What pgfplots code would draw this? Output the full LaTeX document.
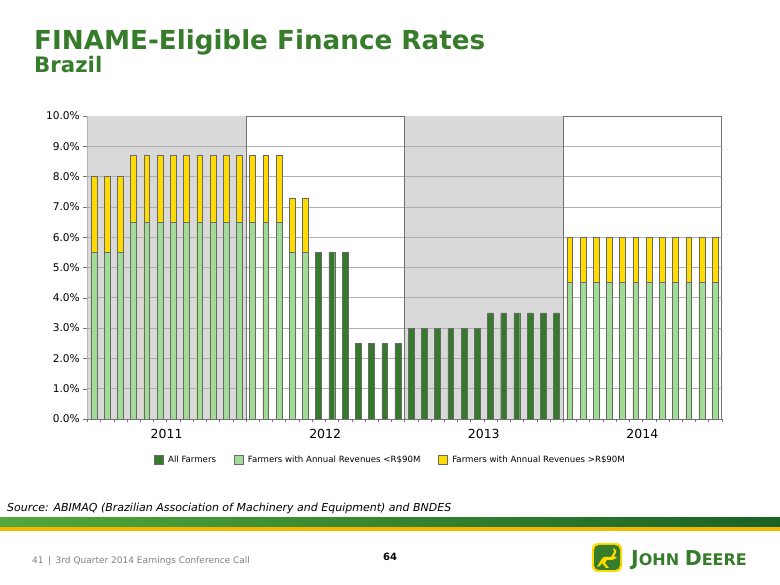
\documentclass[border=0pt]{standalone}
\usepackage{pgfplots}
\pgfplotsset{compat=1.18}
\usepackage{fontspec}
\setmainfont{DejaVu Sans}
\definecolor{dg}{RGB}{52,122,42}
\definecolor{lg}{RGB}{160,220,150}
\definecolor{yel}{RGB}{255,219,0}
\definecolor{edge}{RGB}{105,105,105}
\definecolor{bggray}{RGB}{217,217,217}
\definecolor{titlegreen}{RGB}{54,124,43}
\definecolor{bandL}{RGB}{84,168,60}
\definecolor{bandR}{RGB}{26,98,38}
\definecolor{bandY}{RGB}{244,184,0}
\definecolor{jdgreen}{RGB}{54,124,43}
\definecolor{gridc}{RGB}{175,175,175}
\begin{document}
\begin{tikzpicture}[x=1pt,y=1pt]
\path[fill=white] (0,0) rectangle (780,585);
% titles
\node[anchor=base west, inner sep=0, text=titlegreen, font=\fontsize{26.2}{30}\selectfont\bfseries] at (34,535) {FINAME-Eligible Finance Rates};
\node[anchor=base west, inner sep=0, text=titlegreen, font=\fontsize{21.3}{24}\selectfont\bfseries] at (34,512) {Brazil};
\begin{axis}[
  at={(87.3pt,166pt)}, anchor=south west,
  scale only axis, width=634.4pt, height=303pt,
  xmin=0, xmax=48, ymin=0, ymax=10,
  xtick={6,18,30,42}, xticklabels={2011,2012,2013,2014},
  minor xtick={0,1,...,48},
  major x tick style={draw=none},
  minor tick length=3.5pt, major tick length=4pt,
  tick align=outside, xtick pos=bottom, ytick pos=left,
  ytick={0,1,...,10},
  yticklabels={0.0\%,1.0\%,2.0\%,3.0\%,4.0\%,5.0\%,6.0\%,7.0\%,8.0\%,9.0\%,10.0\%},
  axis line style={draw=gray!90!black},
  tick style={draw=gray!90!black},
  x tick label style={font=\fontsize{12.5}{14}\selectfont, yshift=-3pt},
  y tick label style={font=\fontsize{10.6}{12}\selectfont},
  legend style={at={(0.478,-0.135)}, anchor=center, draw=none, fill=none,
    legend columns=3, font=\fontsize{8.6}{10}\selectfont,
    /tikz/every odd column/.append style={column sep=2.5pt},
    /tikz/every even column/.append style={column sep=16pt}},
  legend cell align=left,
  legend image code/.code={\draw[#1] (0pt,-4.5pt) rectangle (9pt,4.5pt);},
]
\fill[bggray] (axis cs:0,0) rectangle (axis cs:12,10);
\fill[bggray] (axis cs:24,0) rectangle (axis cs:36,10);
\pgfplotsinvokeforeach{1,...,9}{
  \draw[gridc, line width=0.7pt] (axis cs:0,#1) -- (axis cs:48,#1);
}
\draw[gray!90!black] (axis cs:12,0) -- (axis cs:12,10);
\draw[gray!90!black] (axis cs:24,0) -- (axis cs:24,10);
\draw[gray!90!black] (axis cs:36,0) -- (axis cs:36,10);
\addlegendimage{fill=dg, draw=edge}
\addlegendentry{All Farmers}
\addlegendimage{fill=lg, draw=edge}
\addlegendentry{Farmers with Annual Revenues <R\$90M}
\addlegendimage{fill=yel, draw=edge}
\addlegendentry{Farmers with Annual Revenues >R\$90M}
% totals (yellow)
\addplot[ybar, bar width=5.8pt, bar shift=0pt, fill=yel, draw=edge, forget plot] coordinates {
(0.5,8.0) (1.5,8.0) (2.5,8.0) (3.5,8.7) (4.5,8.7) (5.5,8.7) (6.5,8.7) (7.5,8.7) (8.5,8.7) (9.5,8.7) (10.5,8.7) (11.5,8.7)
(12.5,8.7) (13.5,8.7) (14.5,8.7) (15.5,7.3) (16.5,7.3)
(36.5,6.0) (37.5,6.0) (38.5,6.0) (39.5,6.0) (40.5,6.0) (41.5,6.0) (42.5,6.0) (43.5,6.0) (44.5,6.0) (45.5,6.0) (46.5,6.0) (47.5,6.0)
};
% light green
\addplot[ybar, bar width=5.8pt, bar shift=0pt, fill=lg, draw=edge, forget plot] coordinates {
(0.5,5.5) (1.5,5.5) (2.5,5.5) (3.5,6.5) (4.5,6.5) (5.5,6.5) (6.5,6.5) (7.5,6.5) (8.5,6.5) (9.5,6.5) (10.5,6.5) (11.5,6.5)
(12.5,6.5) (13.5,6.5) (14.5,6.5) (15.5,5.5) (16.5,5.5)
(36.5,4.5) (37.5,4.5) (38.5,4.5) (39.5,4.5) (40.5,4.5) (41.5,4.5) (42.5,4.5) (43.5,4.5) (44.5,4.5) (45.5,4.5) (46.5,4.5) (47.5,4.5)
};
% dark green
\addplot[ybar, bar width=5.8pt, bar shift=0pt, fill=dg, draw=edge, forget plot] coordinates {
(17.5,5.5) (18.5,5.5) (19.5,5.5) (20.5,2.5) (21.5,2.5) (22.5,2.5) (23.5,2.5)
(24.5,3.0) (25.5,3.0) (26.5,3.0) (27.5,3.0) (28.5,3.0) (29.5,3.0)
(30.5,3.5) (31.5,3.5) (32.5,3.5) (33.5,3.5) (34.5,3.5) (35.5,3.5)
};
\end{axis}
% source
\node[anchor=base west, inner sep=0, font=\fontsize{11}{13}\selectfont\itshape] at (7,73) {Source: ABIMAQ (Brazilian Association of Machinery and Equipment) and BNDES};
% band
\shade[left color=bandL, right color=bandR] (0,57) rectangle (780,67);
\fill[bandY] (0,54) rectangle (780,57.5);
% footer
\node[anchor=base west, inner sep=0, text=gray, font=\fontsize{9}{11}\selectfont] at (32,21.5) {41\enspace|\enspace 3rd Quarter 2014 Earnings Conference Call};
\node[anchor=base, inner sep=0, font=\fontsize{10}{12}\selectfont\bfseries] at (390,24.5) {64};
% logo
\fill[rounded corners=6pt, fill=yel] (592,13) rectangle (622,42);
\fill[rounded corners=5pt, fill=jdgreen] (594,15) rectangle (620,40);
\fill[yel] (597,18) -- (601,25) -- (604,28) -- (611,28) -- (614,33) -- (613,37) -- (616,35) -- (616,32) -- (614,29) -- (617,27) -- (612,25) -- (607,25) -- (605,22) -- (609,17) -- (606,17) -- (602,22) -- (600,19) -- cycle;
\node[anchor=base west, inner sep=0, text=jdgreen, font=\bfseries] at (631,19.5) {\fontsize{20.5}{22}\selectfont J\fontsize{16}{18}\selectfont OHN\ \fontsize{20.5}{22}\selectfont D\fontsize{16}{18}\selectfont EERE};
\end{tikzpicture}
\end{document}
